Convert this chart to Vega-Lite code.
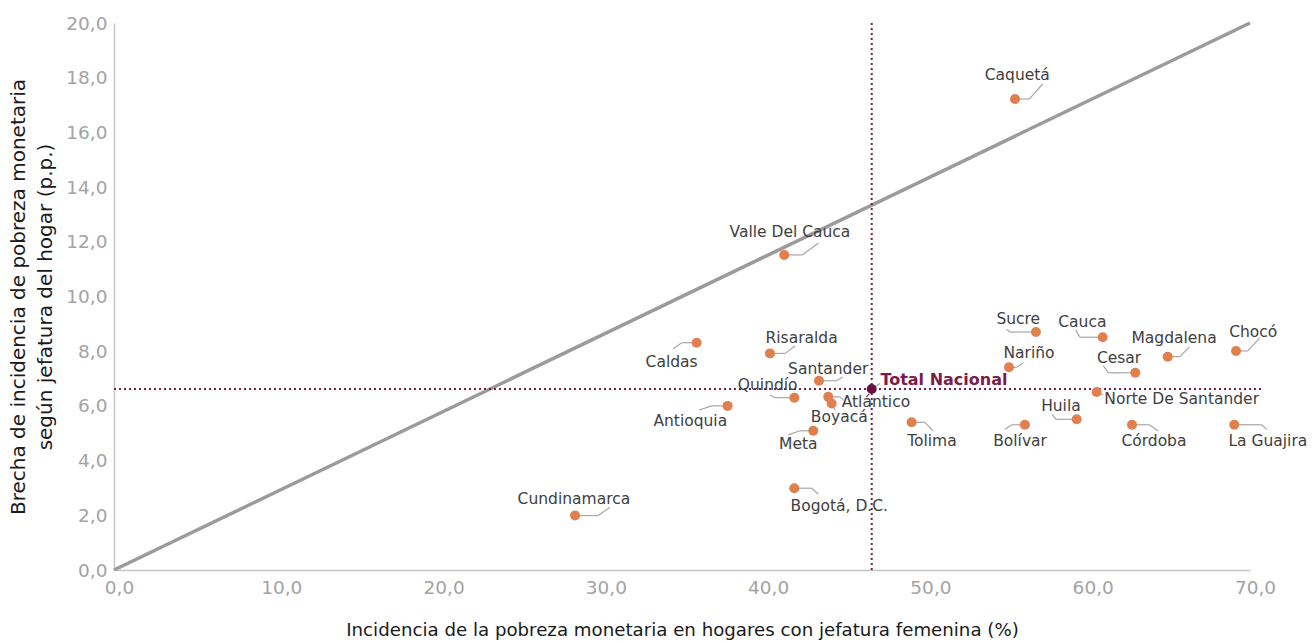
{
  "$schema": "https://vega.github.io/schema/vega-lite/v6.json",
  "width": 1136,
  "height": 547,
  "autosize": {"type": "none"},
  "padding": {"left": 114, "top": 23, "right": 62, "bottom": 73},
  "background": "white",
  "config": {
    "view": {"stroke": null},
    "font": "DejaVu Sans",
    "axis": {
      "grid": false,
      "ticks": false,
      "domainColor": "#c3c7c7",
      "domainWidth": 1.5,
      "labelColor": "#a3a3a3",
      "labelFont": "DejaVu Sans",
      "labelFontSize": 18.5,
      "labelFlush": false,
      "titleFont": "DejaVu Sans",
      "titleFontSize": 18,
      "titleFontWeight": "normal",
      "titleColor": "#1a1a1a"
    }
  },
  "datasets": {
    "diag": [{"x": 0, "y": 0}, {"x": 70, "y": 20}],
    "pts": [
      {"name": "Caquetá", "tipo": "Departamento", "x": 55.52, "y": 17.22, "ex": 56.40, "lx": 57.22, "ly": 17.77, "tx": 55.66, "ty": 18.10},
      {"name": "Valle Del Cauca", "tipo": "Departamento", "x": 41.30, "y": 11.52, "ex": 42.41, "lx": 43.40, "ly": 11.95, "tx": 41.65, "ty": 12.37},
      {"name": "Caldas", "tipo": "Departamento", "x": 35.90, "y": 8.31, "ex": 34.98, "lx": 34.46, "ly": 8.09, "tx": 34.36, "ty": 7.61},
      {"name": "Risaralda", "tipo": "Departamento", "x": 40.42, "y": 7.92, "ex": 41.35, "lx": 41.96, "ly": 8.19, "tx": 42.37, "ty": 8.49},
      {"name": "Santander", "tipo": "Departamento", "x": 43.44, "y": 6.92, "ex": 44.53, "lx": 44.90, "ly": 7.06, "tx": 44.01, "ty": 7.35},
      {"name": "Quindío", "tipo": "Departamento", "x": 41.92, "y": 6.30, "ex": 40.73, "lx": 40.42, "ly": 6.40, "tx": 40.28, "ty": 6.76},
      {"name": "Atlántico", "tipo": "Departamento", "x": 44.01, "y": 6.33, "ex": 44.73, "lx": 44.94, "ly": 6.22, "tx": 46.95, "ty": 6.13},
      {"name": "Boyacá", "tipo": "Departamento", "x": 44.22, "y": 6.09, "ex": 44.22, "lx": 44.43, "ly": 5.85, "tx": 44.69, "ty": 5.61},
      {"name": "Antioquia", "tipo": "Departamento", "x": 37.81, "y": 6.00, "ex": 36.83, "lx": 36.05, "ly": 5.85, "tx": 35.51, "ty": 5.46},
      {"name": "Meta", "tipo": "Departamento", "x": 43.09, "y": 5.09, "ex": 42.27, "lx": 41.55, "ly": 4.94, "tx": 42.17, "ty": 4.60},
      {"name": "Bogotá, D.C.", "tipo": "Departamento", "x": 41.92, "y": 2.99, "ex": 42.99, "lx": 43.40, "ly": 2.78, "tx": 44.69, "ty": 2.35},
      {"name": "Cundinamarca", "tipo": "Departamento", "x": 28.41, "y": 1.99, "ex": 29.84, "lx": 30.56, "ly": 2.29, "tx": 28.34, "ty": 2.58},
      {"name": "Tolima", "tipo": "Departamento", "x": 49.15, "y": 5.40, "ex": 49.97, "lx": 50.48, "ly": 5.08, "tx": 50.40, "ty": 4.72},
      {"name": "Sucre", "tipo": "Departamento", "x": 56.81, "y": 8.70, "ex": 55.21, "lx": 55.01, "ly": 8.80, "tx": 55.72, "ty": 9.18},
      {"name": "Cauca", "tipo": "Departamento", "x": 60.92, "y": 8.51, "ex": 59.52, "lx": 59.26, "ly": 8.78, "tx": 59.67, "ty": 9.08},
      {"name": "Nariño", "tipo": "Departamento", "x": 55.15, "y": 7.41, "ex": 55.62, "lx": 56.03, "ly": 7.58, "tx": 56.38, "ty": 7.92},
      {"name": "Cesar", "tipo": "Departamento", "x": 62.93, "y": 7.21, "ex": 61.27, "lx": 60.96, "ly": 7.47, "tx": 61.93, "ty": 7.76},
      {"name": "Magdalena", "tipo": "Departamento", "x": 64.93, "y": 7.80, "ex": 65.69, "lx": 66.26, "ly": 8.16, "tx": 65.32, "ty": 8.49},
      {"name": "Chocó", "tipo": "Departamento", "x": 69.14, "y": 8.01, "ex": 69.86, "lx": 70.61, "ly": 8.49, "tx": 70.20, "ty": 8.71},
      {"name": "Norte De Santander", "tipo": "Departamento", "x": 60.55, "y": 6.51, "ex": 60.55, "lx": 60.96, "ly": 6.40, "tx": 65.79, "ty": 6.24},
      {"name": "Huila", "tipo": "Departamento", "x": 59.32, "y": 5.51, "ex": 58.04, "lx": 57.82, "ly": 5.69, "tx": 58.35, "ty": 6.00},
      {"name": "Bolívar", "tipo": "Departamento", "x": 56.13, "y": 5.31, "ex": 55.31, "lx": 54.90, "ly": 5.14, "tx": 55.83, "ty": 4.71},
      {"name": "Córdoba", "tipo": "Departamento", "x": 62.73, "y": 5.31, "ex": 63.79, "lx": 64.35, "ly": 5.08, "tx": 64.08, "ty": 4.71},
      {"name": "La Guajira", "tipo": "Departamento", "x": 69.03, "y": 5.31, "ex": 70.72, "lx": 71.03, "ly": 5.14, "tx": 71.10, "ty": 4.71},
      {"name": "Total Nacional", "tipo": "Total", "x": 46.69, "y": 6.62, "ex": 46.69, "lx": 47.20, "ly": 6.82, "tx": 51.14, "ty": 6.95}
    ],
    "ref": [{"x": 46.69, "y": 6.62, "x0": 0, "x1": 70.7}]
  },
  "layer": [
    {
      "data": {"name": "diag"},
      "mark": {"type": "line", "color": "#9b9b9b", "strokeWidth": 3.5},
      "encoding": {
        "x": {
          "field": "x", "type": "quantitative",
          "scale": {"domain": [0, 70], "nice": false},
          "axis": {
            "values": [0, 10, 20, 30, 40, 50, 60, 70],
            "labelExpr": "replace(format(datum.value, '.1f'), '.', ',')",
            "labelPadding": 8,
            "labelOffset": 5,
            "title": "Incidencia de la pobreza monetaria en hogares con jefatura femenina (%)",
            "titleFontSize": 18.2,
            "titlePadding": 25
          }
        },
        "y": {
          "field": "y", "type": "quantitative",
          "scale": {"domain": [0, 20], "nice": false},
          "axis": {
            "values": [0, 2, 4, 6, 8, 10, 12, 14, 16, 18, 20],
            "labelExpr": "replace(format(datum.value, '.1f'), '.', ',')",
            "labelPadding": 7,
            "title": ["Brecha de incidencia de pobreza monetaria", "según jefatura del hogar (p.p.)"],
            "titleFontSize": 20,
            "titleLineHeight": 27,
            "titlePadding": 10
          }
        }
      }
    },
    {
      "data": {"name": "ref"},
      "mark": {"type": "rule", "color": "#7b1c4a", "strokeWidth": 2, "strokeDash": [2, 3]},
      "encoding": {"x": {"field": "x", "type": "quantitative"}}
    },
    {
      "data": {"name": "ref"},
      "mark": {"type": "rule", "color": "#7b1c4a", "strokeWidth": 2, "strokeDash": [2, 3]},
      "encoding": {
        "x": {"field": "x0", "type": "quantitative"},
        "x2": {"field": "x1"},
        "y": {"field": "y", "type": "quantitative"}
      }
    },
    {
      "data": {"name": "pts"},
      "mark": {"type": "rule", "color": "#a6a6a6", "strokeWidth": 1.2},
      "encoding": {
        "x": {"field": "x", "type": "quantitative"},
        "x2": {"field": "ex"},
        "y": {"field": "y", "type": "quantitative"}
      }
    },
    {
      "data": {"name": "pts"},
      "mark": {"type": "rule", "color": "#a6a6a6", "strokeWidth": 1.2},
      "encoding": {
        "x": {"field": "ex", "type": "quantitative"},
        "x2": {"field": "lx"},
        "y": {"field": "y", "type": "quantitative"},
        "y2": {"field": "ly"}
      }
    },
    {
      "data": {"name": "pts"},
      "mark": {"type": "circle", "size": 100, "opacity": 1},
      "encoding": {
        "x": {"field": "x", "type": "quantitative"},
        "y": {"field": "y", "type": "quantitative"},
        "color": {
          "field": "tipo", "type": "nominal",
          "scale": {"domain": ["Departamento", "Total"], "range": ["#e0804f", "#6b1340"]},
          "legend": null
        }
      }
    },
    {
      "data": {"name": "pts"},
      "transform": [{"filter": "datum.tipo == 'Departamento'"}],
      "mark": {"type": "text", "align": "center", "baseline": "middle", "fontSize": 15.5, "color": "#404040", "font": "DejaVu Sans"},
      "encoding": {
        "x": {"field": "tx", "type": "quantitative"},
        "y": {"field": "ty", "type": "quantitative"},
        "text": {"field": "name"}
      }
    },
    {
      "data": {"name": "pts"},
      "transform": [{"filter": "datum.tipo == 'Total'"}],
      "mark": {"type": "text", "align": "center", "baseline": "middle", "fontSize": 16, "fontWeight": "bold", "color": "#7b1c4a", "font": "DejaVu Sans"},
      "encoding": {
        "x": {"field": "tx", "type": "quantitative"},
        "y": {"field": "ty", "type": "quantitative"},
        "text": {"field": "name"}
      }
    }
  ]
}
